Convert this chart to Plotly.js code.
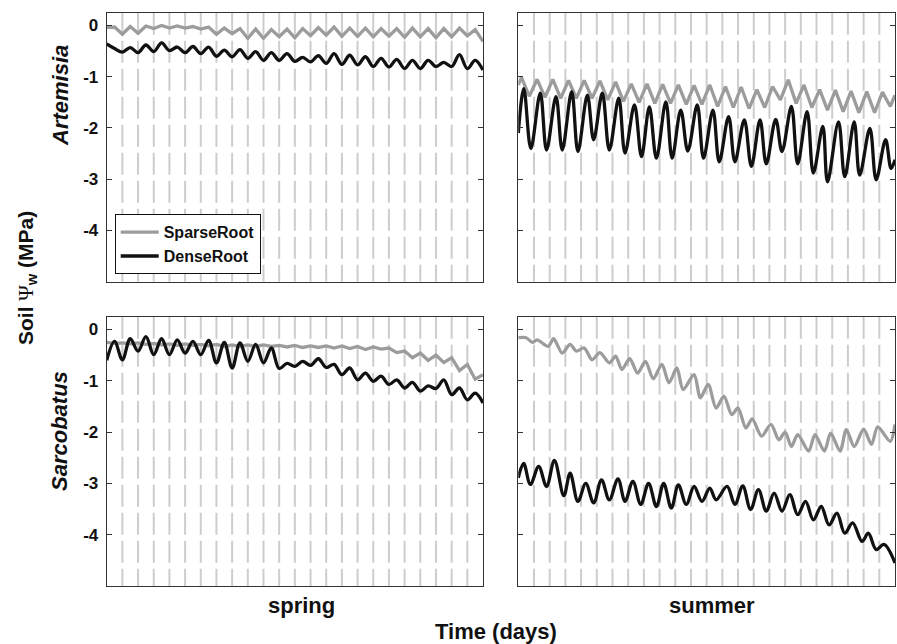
<!DOCTYPE html>
<html>
<head>
<meta charset="utf-8">
<script src="https://cdn.plot.ly/plotly-3.0.1.min.js"></script>
<style>html,body{margin:0;padding:0;background:#fff;}#chart{width:897px;height:644px;}</style>
</head>
<body>
<div id="chart"></div>
<script>
// ---------------- data ----------------
const seriesNames = ['SparseRoot', 'DenseRoot'];
const rowLabels = ['Artemisia', 'Sarcobatus'];
const colLabels = ['spring', 'summer'];
const yTickVals = [0, -1, -2, -3, -4];
const yTickText = ['0', '-1', '-2', '-3', '-4'];
const dayMarks = [1,2,3,4,5,6,7,8,9,10,11,12,13,14,15,16,17,18,19,20,21,22,23];

// half-day time grid (days)
const halfDays = [0,0.5,1,1.5,2,2.5,3,3.5,4,4.5,5,5.5,6,6.5,7,7.5,8,8.5,9,9.5,10,10.5,11,11.5,12,12.5,13,13.5,14,14.5,15,15.5,16,16.5,17,17.5,18,18.5,19,19.5,20,20.5,21,21.5,22,22.5,23,23.5,24];

// Artemisia, spring
const artSpringSparse = [-0.04,-0.03,-0.17,-0.02,-0.15,-0.01,-0.06,0.0,-0.05,-0.01,
  -0.05,-0.02,-0.07,-0.03,-0.17,-0.05,-0.16,-0.06,-0.25,-0.07,
  -0.25,-0.08,-0.22,-0.07,-0.24,-0.06,-0.2,-0.04,-0.19,-0.03,
  -0.21,-0.05,-0.21,-0.05,-0.22,-0.06,-0.21,-0.06,-0.23,-0.05,
  -0.22,-0.06,-0.24,-0.06,-0.22,-0.05,-0.2,-0.08,-0.31];
const artSpringDense = [-0.36,-0.45,-0.52,-0.43,-0.53,-0.38,-0.51,-0.34,-0.49,-0.42,
  -0.53,-0.41,-0.55,-0.42,-0.60,-0.48,-0.61,-0.47,-0.64,-0.51,
  -0.68,-0.53,-0.68,-0.55,-0.70,-0.62,-0.71,-0.59,-0.74,-0.55,
  -0.76,-0.58,-0.77,-0.61,-0.80,-0.64,-0.81,-0.66,-0.84,-0.68,
  -0.84,-0.68,-0.80,-0.72,-0.80,-0.57,-0.84,-0.68,-0.87];

// Artemisia, summer
const artSummerSparseT = [0,0.2,0.7,1.2,1.7,2.2,2.7,3.2,3.7,4.2,4.7,5.2,5.7,6.2,6.7,7.2,7.7,8.2,8.7,9.2,9.7,10.2,10.7,11.2,11.7,12.2,12.7,13.2,13.7,14.2,14.7,15.2,15.7,16.2,16.7,17.2,17.7,18.2,18.7,19.2,19.7,20.2,20.7,21.2,21.7,22.2,22.7,23.2,23.7,24];
const artSummerSparse = [-1.16,-1.01,-1.38,-1.05,-1.40,-1.05,-1.42,-1.07,-1.42,-1.07,
  -1.42,-1.08,-1.45,-1.10,-1.48,-1.14,-1.50,-1.14,-1.52,-1.15,
  -1.52,-1.16,-1.54,-1.17,-1.54,-1.16,-1.58,-1.19,-1.60,-1.20,
  -1.62,-1.25,-1.60,-1.19,-1.45,-1.06,-1.52,-1.16,-1.60,-1.25,
  -1.65,-1.26,-1.68,-1.28,-1.70,-1.29,-1.70,-1.30,-1.58,-1.36];
const artSummerDenseT = [0,0.35,0.8,1.4,1.8,2.4,2.8,3.4,3.8,4.4,4.8,5.35,5.8,6.4,6.8,7.4,7.85,8.35,8.8,9.4,9.8,10.35,10.8,11.4,11.8,12.4,12.8,13.4,13.8,14.4,14.85,15.4,15.8,16.4,16.8,17.4,17.8,18.4,18.8,19.4,19.7,20.4,20.8,21.4,21.75,22.4,22.8,23.4,23.75,24];
const artSummerDense = [-2.10,-1.23,-2.40,-1.32,-2.43,-1.39,-2.43,-1.29,-2.46,-1.36,
  -2.23,-1.32,-2.43,-1.42,-2.49,-1.55,-2.56,-1.59,-2.59,-1.49,
  -2.59,-1.65,-2.45,-1.55,-2.59,-1.65,-2.66,-1.78,-2.66,-1.84,
  -2.75,-1.84,-2.70,-1.83,-2.46,-1.58,-2.70,-1.68,-2.88,-1.97,
  -3.05,-1.88,-2.95,-1.88,-2.92,-2.01,-3.01,-2.23,-2.79,-2.62];

// Sarcobatus, spring
const sarSpringSparse = [-0.25,-0.27,-0.26,-0.28,-0.26,-0.29,-0.27,-0.30,-0.28,-0.31,
  -0.28,-0.31,-0.29,-0.32,-0.29,-0.33,-0.30,-0.33,-0.30,-0.33,
  -0.30,-0.33,-0.31,-0.34,-0.31,-0.35,-0.32,-0.35,-0.32,-0.36,
  -0.32,-0.37,-0.33,-0.39,-0.34,-0.38,-0.36,-0.45,-0.42,-0.55,
  -0.46,-0.60,-0.50,-0.64,-0.55,-0.80,-0.68,-0.97,-0.88];
const sarSpringDense = [-0.60,-0.23,-0.59,-0.18,-0.42,-0.14,-0.49,-0.18,-0.49,-0.20,
  -0.46,-0.23,-0.49,-0.21,-0.65,-0.25,-0.75,-0.26,-0.62,-0.29,
  -0.65,-0.36,-0.76,-0.66,-0.72,-0.62,-0.70,-0.57,-0.74,-0.68,
  -0.88,-0.75,-0.98,-0.85,-1.01,-0.91,-1.07,-0.98,-1.14,-1.03,
  -1.20,-1.10,-1.15,-0.98,-1.27,-1.14,-1.37,-1.24,-1.43];

// Sarcobatus, summer
const sarSummerSparseT = [0,0.5,0.9,1.2,1.9,2.25,2.8,3.3,3.7,4.2,4.7,5.2,5.8,6.2,6.6,7.1,7.6,8.1,8.6,9.15,9.6,10.1,10.5,11.2,11.6,12.1,12.6,13.1,13.6,14.0,14.5,14.9,15.5,16.1,16.6,17.0,17.4,17.8,18.5,18.9,19.5,19.9,20.5,20.9,21.4,22.0,22.5,22.9,23.7,24];
const sarSummerSparse = [-0.16,-0.16,-0.25,-0.20,-0.33,-0.18,-0.46,-0.29,-0.42,-0.36,
  -0.59,-0.45,-0.65,-0.52,-0.78,-0.57,-0.85,-0.62,-0.96,-0.68,
  -1.04,-0.75,-1.17,-0.88,-1.33,-1.07,-1.53,-1.30,-1.66,-1.53,
  -1.92,-1.74,-2.08,-1.85,-2.15,-2.00,-2.28,-2.05,-2.37,-2.05,
  -2.37,-2.02,-2.37,-1.95,-2.28,-1.94,-2.24,-1.90,-2.18,-1.85];
const sarSummerDenseT = [0,0.34,0.77,1.3,1.8,2.3,2.9,3.3,3.8,4.3,4.8,5.3,5.8,6.35,6.8,7.3,7.8,8.3,8.8,9.26,9.75,10.2,10.7,11.2,11.7,12.2,12.6,13.3,13.8,14.3,14.8,15.3,15.8,16.3,16.8,17.3,17.8,18.3,18.8,19.3,19.8,20.3,20.8,21.3,21.9,22.3,22.8,23.3,24];
const sarSummerDense = [-2.89,-2.61,-3.02,-2.67,-3.06,-2.55,-3.24,-2.80,-3.35,-3.00,
  -3.38,-2.93,-3.32,-2.91,-3.35,-2.96,-3.41,-3.00,-3.45,-3.00,
  -3.48,-3.03,-3.41,-3.06,-3.35,-3.09,-3.32,-3.06,-3.41,-3.05,
  -3.51,-3.12,-3.54,-3.19,-3.54,-3.22,-3.61,-3.35,-3.71,-3.45,
  -3.81,-3.58,-3.97,-3.77,-4.13,-3.97,-4.29,-4.19,-4.55];

// ---------------- styling ----------------
const FONT = 'Liberation Sans, Arial, Helvetica, sans-serif';
const GRAY = '#9c9c9c';
const BLACK = '#111111';
const AXC = '#333333';
const W = 897, H = 644;

function sparse(x, y, xa, ya, shape, show) {
  return {type:'scatter', mode:'lines', x:x, y:y, xaxis:xa, yaxis:ya, name:seriesNames[0],
    showlegend:!!show, line:{color:GRAY, width:3.3, shape:shape, smoothing:0.8}, hoverinfo:'skip'};
}
function dense(x, y, xa, ya, show) {
  return {type:'scatter', mode:'lines', x:x, y:y, xaxis:xa, yaxis:ya, name:seriesNames[1],
    showlegend:!!show, line:{color:BLACK, width:3.3, shape:'spline', smoothing:1}, hoverinfo:'skip'};
}

const traces = [
  sparse(halfDays, artSpringSparse, 'x', 'y', 'linear', true),
  dense(halfDays, artSpringDense, 'x', 'y', true),
  sparse(artSummerSparseT, artSummerSparse, 'x2', 'y2', 'linear', false),
  dense(artSummerDenseT, artSummerDense, 'x2', 'y2', false),
  sparse(halfDays, sarSpringSparse, 'x3', 'y3', 'linear', false),
  dense(halfDays, sarSpringDense, 'x3', 'y3', false),
  sparse(sarSummerSparseT, sarSummerSparse, 'x4', 'y4', 'spline', false),
  dense(sarSummerDenseT, sarSummerDense, 'x4', 'y4', false)
];

const YR = [-5, 0.25];
const XR = [0, 24];
const colDom = [[106.7/W, 483/W], [518.3/W, 895/W]];
const rowDom = [[1-281.7/H, 1-12.7/H], [1-586/H, 1-316.7/H]];

function xax(dom, anchor) {
  return {domain:dom, anchor:anchor, range:XR, showticklabels:false, ticks:'', showgrid:false,
    zeroline:false, showline:true, mirror:true, linecolor:AXC, linewidth:1, fixedrange:true};
}
function yax(dom, anchor, labels) {
  return {domain:dom, anchor:anchor, range:YR, tickvals:yTickVals, ticktext:yTickText,
    showticklabels:labels, ticks:'inside', ticklen:5, tickwidth:1, tickcolor:AXC,
    showgrid:false, zeroline:false, showline:true, mirror:'ticks', linecolor:AXC, linewidth:1,
    tickfont:{family:FONT, size:17, color:'#111', weight:'bold'}, ticklabelstandoff:4, fixedrange:true};
}

const shapes = [];
[['x','y'],['x2','y2'],['x3','y3'],['x4','y4']].forEach(([xa, ya]) => {
  dayMarks.forEach(d => {
    shapes.push({type:'line', xref:xa, yref:ya, x0:d, x1:d, y0:YR[1], y1:YR[0], layer:'below',
      line:{color:'#cdcdcd', width:2, dash:'22px,6px'}});
  });
});

const annFont = {family:FONT, size:22, color:'#111', weight:'bold'};
function ann(text, px, py, angle, font) {
  return {text:text, xref:'paper', yref:'paper', x:px/W, y:1-py/H, xanchor:'center', yanchor:'middle',
    textangle:angle, showarrow:false, font:font};
}
const annotations = [
  ann('Soil <span style="font-family:Liberation Serif;font-weight:normal">Ψ</span><sub>w</sub> (MPa)', 27, 278, -90,
      {family:FONT, size:21, color:'#111', weight:'bold'}),
  ann(rowLabels[0], 60, 96, -90, Object.assign({}, annFont, {style:'italic'})),
  ann(rowLabels[1], 59, 431, -90, Object.assign({}, annFont, {style:'italic'})),
  ann(colLabels[0], 301, 605, 0, annFont),
  ann(colLabels[1], 712, 605, 0, annFont),
  ann('Time (days)', 495.5, 631, 0, annFont)
];

const layout = {
  width:W, height:H, margin:{l:0, r:0, t:0, b:0},
  paper_bgcolor:'#ffffff', plot_bgcolor:'#ffffff',
  font:{family:FONT, color:'#111'},
  xaxis:xax(colDom[0], 'y'), yaxis:yax(rowDom[0], 'x', true),
  xaxis2:xax(colDom[1], 'y2'), yaxis2:yax(rowDom[0], 'x2', false),
  xaxis3:xax(colDom[0], 'y3'), yaxis3:yax(rowDom[1], 'x3', true),
  xaxis4:xax(colDom[1], 'y4'), yaxis4:yax(rowDom[1], 'x4', false),
  showlegend:true,
  legend:{x:114.7/W, y:1-214.3/H, xanchor:'left', yanchor:'top', bgcolor:'#ffffff',
    bordercolor:'#111', borderwidth:1, font:{family:FONT, size:16, color:'#111', weight:'bold'},
    traceorder:'normal', tracegroupgap:0, itemwidth:38},
  shapes:shapes, annotations:annotations
};

Plotly.newPlot('chart', traces, layout, {staticPlot:true, displayModeBar:false});
</script>
</body>
</html>
